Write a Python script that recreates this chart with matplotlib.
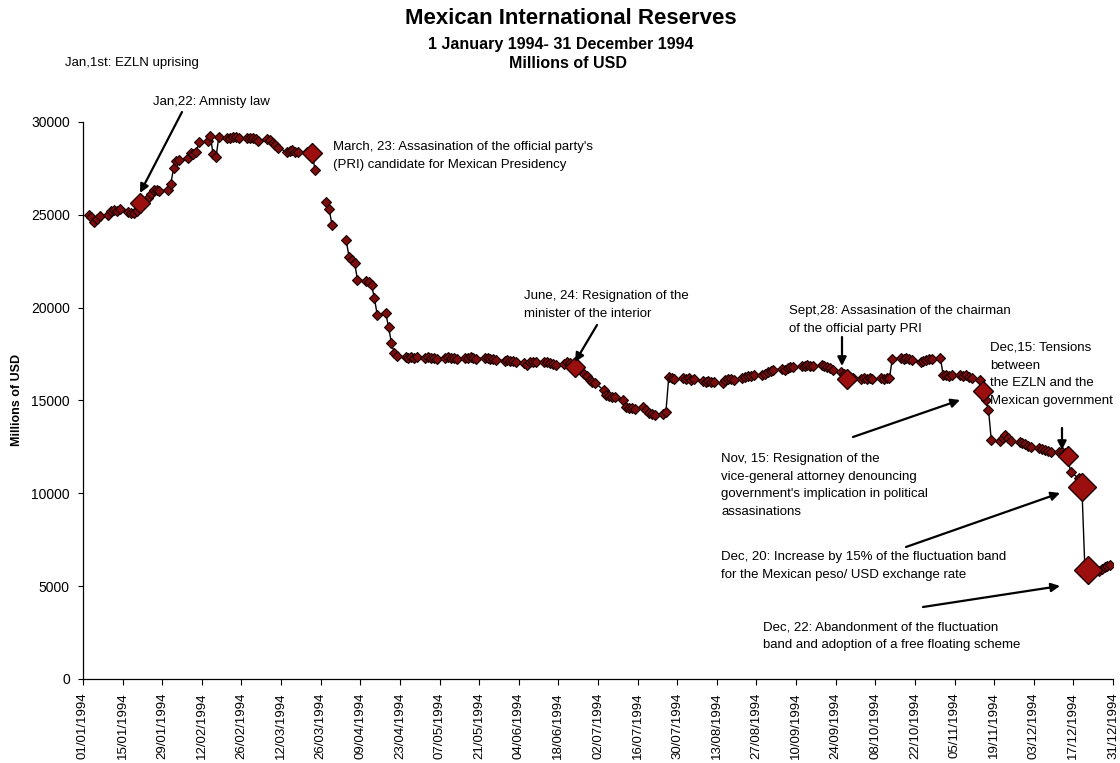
import numpy as np
import pandas as pd
import matplotlib
matplotlib.use('Agg')
import matplotlib.pyplot as plt
import matplotlib.dates as mdates
from matplotlib.ticker import FixedLocator

plt.rcParams['font.family'] = ['Liberation Sans', 'DejaVu Sans']

nan = np.nan
# Daily (business day) reserves, millions of USD, per month
jan = [25000, 24900, 24600, 24800, 24950, 25000, 25200, 25250, 25200, 25300, 25150,
       25100, 25100, 25200, 25650, 25900, 26100, 26350, 26350, 26300, 26350]
feb = [26650, 27500, 27900, 27950, 28050, 28350, 28300, 28400, 28900, 28950, 29250,
       28250, 28100, 29200, 29150, 29150, 29200, 29200, 29150, 29150]
mar = [29150, 29150, 29100, 29000, 29100, 29050, 28850, 28750, 28600, 28400, 28450,
       28500, 28400, 28400, 28400, 28350, 28330, 27400, nan, 25700, 25300, 24450, nan]
apr = [nan, 23650, 22750, 22550, 22400, 21500, 21450, 21400, 21200, 20500, 19600,
       19700, 18950, 18100, 17550, 17400, 17350, 17300, 17350, 17300, 17350]
may = [17300, 17350, 17300, 17300, 17250, 17300, 17350, 17300, 17300, 17250, 17300,
       17300, 17350, 17300, 17250, 17300, 17300, 17250, 17250, 17200, 17150, 17200]
jun = [17150, 17150, 17100, 17000, 16900, 17050, 17050, 17100, 17050, 17050, 17000,
       16950, 16900, 16950, 17050, 17000, 16900, 16800, 16450, 16300, 16100, 16000]
jul = [15950, 15550, 15300, 15250, 15200, 15200, 15000, 14650, 14600, 14600, 14550,
       14650, 14500, 14350, 14250, 14200, 14250, 14400, 16250, 16200, 16150]
aug = [16200, 16150, 16200, 16100, 16150, 16050, 16000, 16050, 16000, 16000, 15950,
       16100, 16150, 16150, 16100, 16200, 16250, 16300, 16300, 16350, 16400, 16450, 16550]
sep = [16600, 16650, 16700, 16650, 16750, 16800, 16800, 16850, 16850, 16900, 16850,
       16850, 16900, 16850, 16800, 16750, 16650, 16550, 16450, 16150, 16250, 16200]
oct_ = [16150, 16200, 16150, 16200, 16150, 16200, 16150, 16200, 16200, 17250, 17300,
        17250, 17300, 17250, 17200, 17100, 17150, 17200, 17250, 17250, 17300]
nov = [16350, 16350, 16300, 16350, 16350, 16300, 16350, 16250, 16200, 16100, 15500,
       15000, 14500, 12850, 12800, 13000, 13150, 13000, 12800, 12750, 12700, 12650]
dec = [12550, 12500, 12450, 12400, 12350, 12300, 12250, 12250, 12200, 12150, 12000,
       11150, 10800, 10350, 6200, 5850, 5900, 5800, 5950, 6050, 6100, 6150]

months = [jan, feb, mar, apr, may, jun, jul, aug, sep, oct_, nov, dec]

event_dates = ['1994-01-21', '1994-03-23', '1994-06-24', '1994-09-28',
               '1994-11-15', '1994-12-15', '1994-12-20', '1994-12-22']
event_big = [False, False, False, False, False, False, True, True]

all_dates = []
all_vals = []
for m, vals in enumerate(months, start=1):
    start = pd.Timestamp(1994, m, 1)
    end = start + pd.offsets.MonthEnd(0)
    d = pd.bdate_range(start, end)
    assert len(d) == len(vals), (m, len(d), len(vals))
    all_dates.extend(d)
    all_vals.extend(vals)
series = pd.Series(all_vals, index=pd.DatetimeIndex(all_dates))

W, H = 1120, 763
fig = plt.figure(figsize=(W / 100, H / 100), dpi=100)
ax = fig.add_axes([83 / W, 84 / H, 1030 / W, 557 / H])

ax.plot(series.index, series.values, color='black', lw=1.0, zorder=2)
ax.plot(series.index, series.values, ls='none', marker='D', ms=5.4,
        mfc='#7a0d0d', mec='#1a0000', mew=0.8, zorder=3)

for ds, big in zip(event_dates, event_big):
    t = pd.Timestamp(ds)
    ax.plot([t], [series[t]], marker='D', ms=(14 if big else 10),
            mfc='#9c0f0f', mec='#200000', mew=1.0, ls='none', zorder=4)

ax.set_xlim(pd.Timestamp('1994-01-01'), pd.Timestamp('1994-12-31'))
ax.set_ylim(0, 30000)
ticks = pd.date_range('1994-01-01', '1994-12-31', freq='14D')
ax.xaxis.set_major_locator(FixedLocator(mdates.date2num(ticks)))
ax.xaxis.set_major_formatter(mdates.DateFormatter('%d/%m/%Y'))
ax.set_yticks(range(0, 30001, 5000))
ax.tick_params(axis='x', labelrotation=90, labelsize=9.5, direction='out', length=4.5, width=0.8, pad=5)
ax.tick_params(axis='y', labelsize=10, direction='out', length=3.5, width=0.8, pad=6)
for s in ['top', 'right']:
    ax.spines[s].set_visible(False)
for s in ['left', 'bottom']:
    ax.spines[s].set_linewidth(0.9)


def P(x, y):
    return (x / W, 1 - y / H)


fig.text(*P(571, 18), 'Mexican International Reserves', fontsize=16, fontweight='bold',
         ha='center', va='center')
fig.text(*P(561, 44), '1 January 1994- 31 December 1994', fontsize=11.5, fontweight='bold',
         ha='center', va='center')
fig.text(*P(568, 64), 'Millions of USD', fontsize=11.5, fontweight='bold',
         ha='center', va='center')
fig.text(*P(17, 400), 'Millions of USD', fontsize=9, fontweight='bold', rotation=90,
         ha='center', va='center')

fs = 9.5
ls = 1.62
fig.text(*P(65, 63), 'Jan,1st: EZLN uprising', fontsize=fs, ha='left', va='center')
fig.text(*P(153, 102), 'Jan,22: Amnisty law', fontsize=fs, ha='left', va='center')
fig.text(*P(333, 141), "March, 23: Assasination of the official party's\n(PRI) candidate for Mexican Presidency",
         fontsize=fs, ha='left', va='top', linespacing=ls)
fig.text(*P(524, 290), 'June, 24: Resignation of the\nminister of the interior',
         fontsize=fs, ha='left', va='top', linespacing=ls)
fig.text(*P(789, 305), 'Sept,28: Assasination of the chairman\nof the official party PRI',
         fontsize=fs, ha='left', va='top', linespacing=ls)
fig.text(*P(990, 342), 'Dec,15: Tensions\nbetween\nthe EZLN and the\nMexican government',
         fontsize=fs, ha='left', va='top', linespacing=ls)
fig.text(*P(721, 453), "Nov, 15: Resignation of the\nvice-general attorney denouncing\n"
         "government's implication in political\nassasinations",
         fontsize=fs, ha='left', va='top', linespacing=ls)
fig.text(*P(721, 551), 'Dec, 20: Increase by 15% of the fluctuation band\nfor the Mexican peso/ USD exchange rate',
         fontsize=fs, ha='left', va='top', linespacing=ls)
fig.text(*P(763, 621), 'Dec, 22: Abandonment of the fluctuation\nband and adoption of a free floating scheme',
         fontsize=fs, ha='left', va='top', linespacing=ls)

arrows = [((182, 112), (140, 193)),
          ((597, 325), (575, 362)),
          ((842, 337), (842, 366)),
          ((1062, 428), (1062, 450)),
          ((853, 437), (960, 400)),
          ((906, 547), (1060, 493)),
          ((923, 607), (1060, 586))]
for tail, head in arrows:
    fig.add_artist(matplotlib.patches.FancyArrowPatch(
        P(*tail), P(*head), transform=fig.transFigure, arrowstyle='-|>',
        mutation_scale=13, color='black', lw=1.6, shrinkA=0, shrinkB=0, zorder=10))

fig.savefig('out.png', dpi=100)
